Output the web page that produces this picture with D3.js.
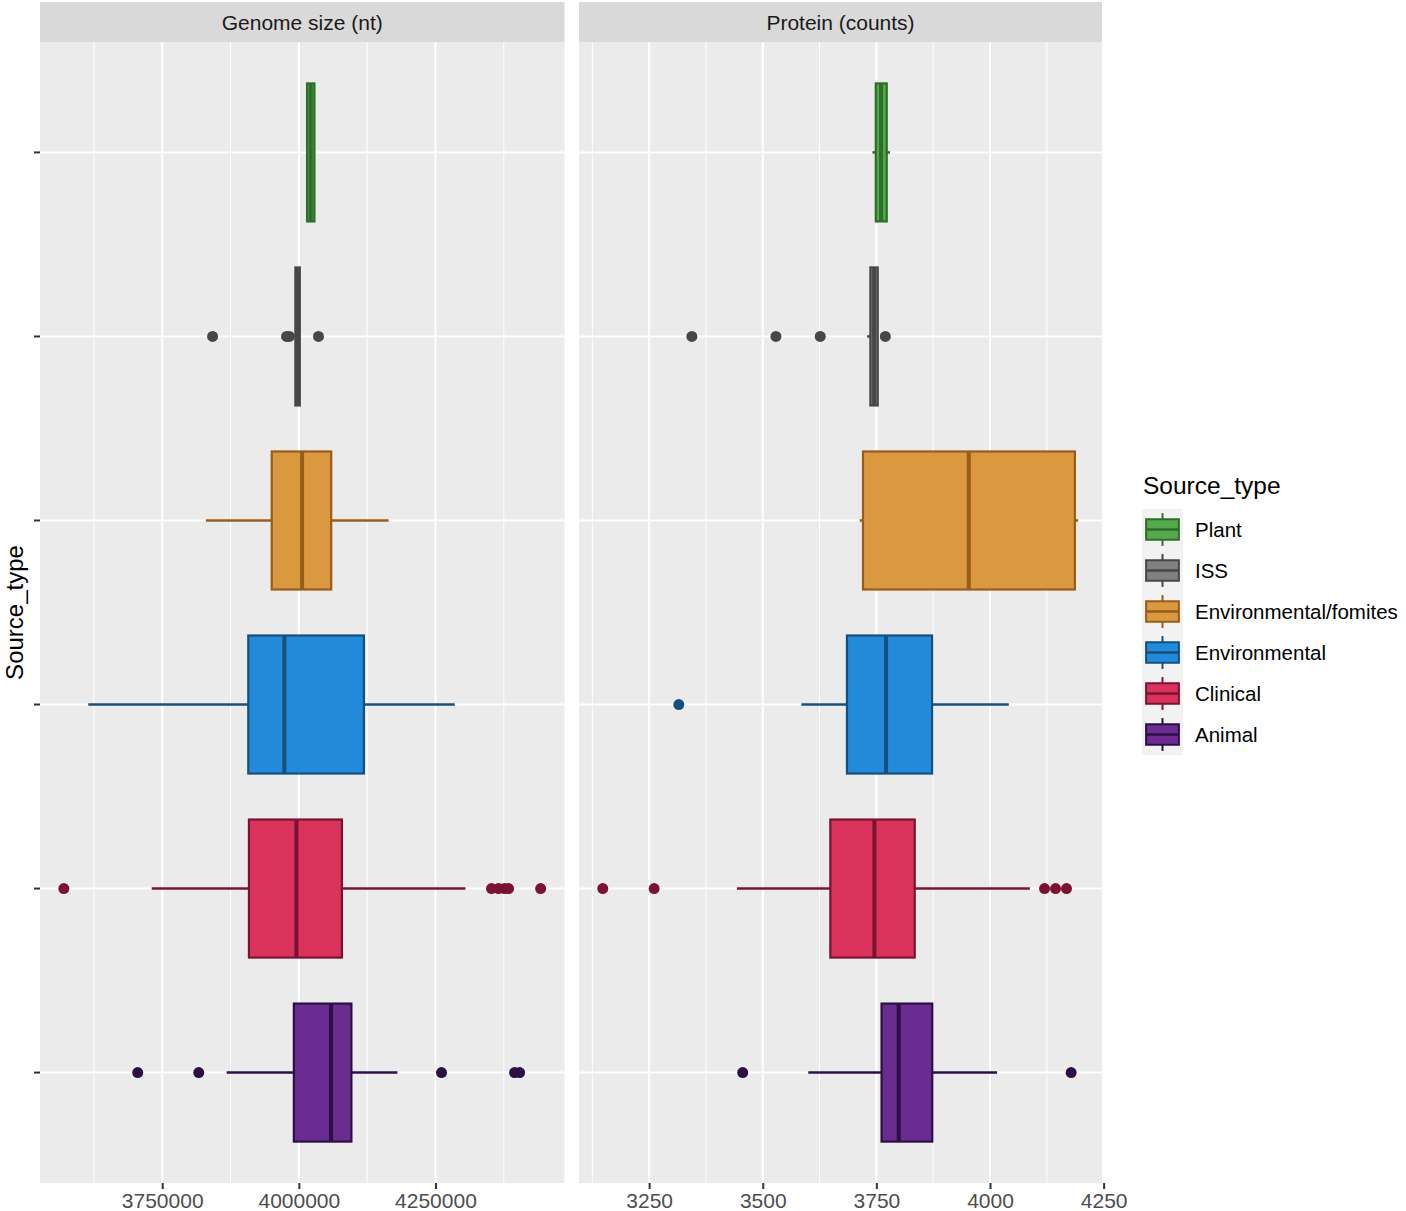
<!DOCTYPE html>
<html>
<head>
<meta charset="utf-8">
<script src="https://cdn.jsdelivr.net/npm/d3@7"></script>
<style>
  body { margin: 0; background: #fff; }
  svg { display: block; font-family: "Liberation Sans", Arial, sans-serif; }
</style>
</head>
<body>
<svg id="chart" width="1406" height="1211"></svg>
<script>
// categories, top to bottom
const sourceTypes = ['Plant', 'ISS', 'Environmental/fomites', 'Environmental', 'Clinical', 'Animal'];
const fillColors   = ['#55a84c', '#808080', '#db993f', '#238ad9', '#d9335c', '#6a2c91'];
const strokeColors = ['#2d6e2a', '#474747', '#985c1b', '#154f7e', '#7c1232', '#2c0f45'];

// Genome size (nt) — box stats
const genomeLow    = [4013300, 3993700, 3829900, 3614700, 3730800, 3868000];
const genomeQ1     = [4015100, 3993700, 3950400, 3907500, 3908700, 3990900];
const genomeMedian = [4021700, 3997700, 4006000, 3973500, 3995500, 4058900];
const genomeQ3     = [4028500, 4001800, 4059200, 4119100, 4078800, 4096200];
const genomeHigh   = [4029800, 4001800, 4164300, 4285300, 4304900, 4180400];
const genomeOutliers = [
  [],
  [3842200, 3977500, 3982700, 4035900],
  [],
  [],
  [3570000, 4352600, 4365400, 4376400, 4383800, 4442500],
  [3705200, 3816900, 4261100, 4394800, 4404000]
];
const genomeTicks = [3750000, 4000000, 4250000];

// Protein (counts)
const proteinLow    = [3741.2, 3729.6, 3713.2, 3584.9, 3443.2, 3600.2];
const proteinQ1     = [3748.7, 3736.8, 3720.6, 3685.3, 3648.7, 3761.4];
const proteinMedian = [3760.3, 3745.0, 3953.3, 3771.3, 3745.6, 3799.1];
const proteinQ3     = [3772.8, 3752.9, 4186.8, 3872.6, 3834.4, 3873.0];
const proteinHigh   = [3780.0, 3753.7, 4194.1, 4041.4, 4087.7, 4015.6];
const proteinOutliers = [
  [],
  [3344, 3529, 3626.5, 3769.7],
  [],
  [3315.3],
  [3148, 3261, 4120, 4144.2, 4168.3],
  [3455.9, 4178.5]
];
const proteinTicks = [3250, 3500, 3750, 4000, 4250];

const panelTop = 42, panelBottom = 1183;

const svg = d3.select('#chart');

const y = d3.scalePoint().domain(sourceTypes).range([panelTop, panelBottom]).padding(0.6);
const boxHalf = y.step() * 0.375;

// ggplot-style 5% expansion around all drawn values
function expanded(low, high, outliers) {
  const all = low.concat(high, outliers.flat());
  const [mn, mx] = d3.extent(all);
  const pad = (mx - mn) * 0.05;
  return [mn - pad, mx + pad];
}

const panels = [
  { title: 'Genome size (nt)', x0: 40, x1: 564.5, ticks: genomeTicks,
    low: genomeLow, q1: genomeQ1, med: genomeMedian, q3: genomeQ3, high: genomeHigh, out: genomeOutliers },
  { title: 'Protein (counts)', x0: 579, x1: 1102, ticks: proteinTicks,
    low: proteinLow, q1: proteinQ1, med: proteinMedian, q3: proteinQ3, high: proteinHigh, out: proteinOutliers }
];

panels.forEach(p => {
  const x = d3.scaleLinear().domain(expanded(p.low, p.high, p.out)).range([p.x0, p.x1]);
  const g = svg.append('g');

  // strip
  g.append('rect').attr('x', p.x0).attr('y', 2).attr('width', p.x1 - p.x0).attr('height', panelTop - 2)
    .attr('fill', '#d9d9d9');
  g.append('text').attr('x', (p.x0 + p.x1) / 2).attr('y', 30)
    .attr('text-anchor', 'middle').attr('font-size', 21).attr('fill', '#1a1a1a')
    .text(p.title);

  // panel background
  g.append('rect').attr('x', p.x0).attr('y', panelTop).attr('width', p.x1 - p.x0)
    .attr('height', panelBottom - panelTop).attr('fill', '#ebebeb');

  // minor grid (midpoints between major ticks, plus one either side)
  const stepT = p.ticks[1] - p.ticks[0];
  const minor = d3.range(p.ticks[0] - stepT / 2, p.ticks[p.ticks.length - 1] + stepT, stepT)
    .filter(v => x(v) >= p.x0 && x(v) <= p.x1);
  g.selectAll('line.minor').data(minor).join('line')
    .attr('x1', d => x(d)).attr('x2', d => x(d))
    .attr('y1', panelTop).attr('y2', panelBottom)
    .attr('stroke', '#fff').attr('stroke-width', 1);

  // major grid
  g.selectAll('line.major').data(p.ticks.filter(v => x(v) <= p.x1 + 0.5)).join('line')
    .attr('x1', d => x(d)).attr('x2', d => x(d))
    .attr('y1', panelTop).attr('y2', panelBottom)
    .attr('stroke', '#fff').attr('stroke-width', 2);
  g.selectAll('line.hgrid').data(sourceTypes).join('line')
    .attr('x1', p.x0).attr('x2', p.x1)
    .attr('y1', d => y(d)).attr('y2', d => y(d))
    .attr('stroke', '#fff').attr('stroke-width', 2);

  // x axis
  const axis = g.append('g').attr('transform', `translate(0,${panelBottom})`)
    .call(d3.axisBottom(x).tickValues(p.ticks).tickSize(6).tickPadding(4).tickFormat(d3.format('d')));
  axis.select('.domain').remove();
  axis.selectAll('.tick line').attr('stroke', '#333').attr('stroke-width', 2);
  axis.selectAll('.tick text').attr('fill', '#4d4d4d').attr('font-size', 21)
    .attr('font-family', '"Liberation Sans", Arial, sans-serif');

  // boxes
  const rows = sourceTypes.map((s, i) => ({
    s, i, low: p.low[i], q1: p.q1[i], med: p.med[i], q3: p.q3[i], high: p.high[i], out: p.out[i]
  }));
  const box = g.selectAll('g.box').data(rows).join('g').attr('class', 'box');

  box.append('line')
    .attr('x1', d => x(d.low)).attr('x2', d => x(d.q1))
    .attr('y1', d => y(d.s)).attr('y2', d => y(d.s))
    .attr('stroke', d => strokeColors[d.i]).attr('stroke-width', 2.5);
  box.append('line')
    .attr('x1', d => x(d.q3)).attr('x2', d => x(d.high))
    .attr('y1', d => y(d.s)).attr('y2', d => y(d.s))
    .attr('stroke', d => strokeColors[d.i]).attr('stroke-width', 2.5);
  box.append('rect')
    .attr('x', d => x(d.q1)).attr('width', d => Math.max(0.5, x(d.q3) - x(d.q1)))
    .attr('y', d => y(d.s) - boxHalf).attr('height', boxHalf * 2)
    .attr('fill', d => fillColors[d.i]).attr('stroke', d => strokeColors[d.i]).attr('stroke-width', 2.2);
  box.append('line')
    .attr('x1', d => x(d.med)).attr('x2', d => x(d.med))
    .attr('y1', d => y(d.s) - boxHalf).attr('y2', d => y(d.s) + boxHalf)
    .attr('stroke', d => strokeColors[d.i]).attr('stroke-width', 4);

  box.selectAll('circle').data(d => d.out.map(v => ({ v, i: d.i, s: d.s }))).join('circle')
    .attr('cx', d => x(d.v)).attr('cy', d => y(d.s)).attr('r', 5.5)
    .attr('fill', d => strokeColors[d.i]);
});

// y ticks (no labels)
svg.selectAll('line.ytick').data(sourceTypes).join('line')
  .attr('x1', 34).attr('x2', 40)
  .attr('y1', d => y(d)).attr('y2', d => y(d))
  .attr('stroke', '#333').attr('stroke-width', 2);

// y axis title
svg.append('text')
  .attr('transform', `translate(23,${(panelTop + panelBottom) / 2}) rotate(-90)`)
  .attr('text-anchor', 'middle').attr('font-size', 24).attr('fill', '#000')
  .text('Source_type');

// legend
const legX = 1142, legY = 509, keyH = 41, keyW = 41;
svg.append('text').attr('x', 1143).attr('y', 494).attr('font-size', 24.5).attr('fill', '#000')
  .text('Source_type');

const key = svg.selectAll('g.key').data(sourceTypes).join('g')
  .attr('transform', (d, i) => `translate(${legX},${legY + i * keyH})`);
key.append('rect').attr('width', keyW).attr('height', keyH).attr('fill', '#f2f2f2');
key.append('line')
  .attr('x1', keyW / 2).attr('x2', keyW / 2).attr('y1', keyH * 0.1).attr('y2', keyH * 0.9)
  .attr('stroke', (d, i) => strokeColors[i]).attr('stroke-width', 2);
key.append('rect')
  .attr('x', keyW * 0.1).attr('width', keyW * 0.8)
  .attr('y', keyH * 0.25).attr('height', keyH * 0.5)
  .attr('fill', (d, i) => fillColors[i]).attr('stroke', (d, i) => strokeColors[i]).attr('stroke-width', 2);
key.append('line')
  .attr('x1', keyW * 0.1).attr('x2', keyW * 0.9).attr('y1', keyH / 2).attr('y2', keyH / 2)
  .attr('stroke', (d, i) => strokeColors[i]).attr('stroke-width', 2.5);
key.append('text')
  .attr('x', 53).attr('y', keyH / 2).attr('dy', '0.35em')
  .attr('font-size', 20.5).attr('fill', '#000')
  .text(d => d);
</script>
</body>
</html>
